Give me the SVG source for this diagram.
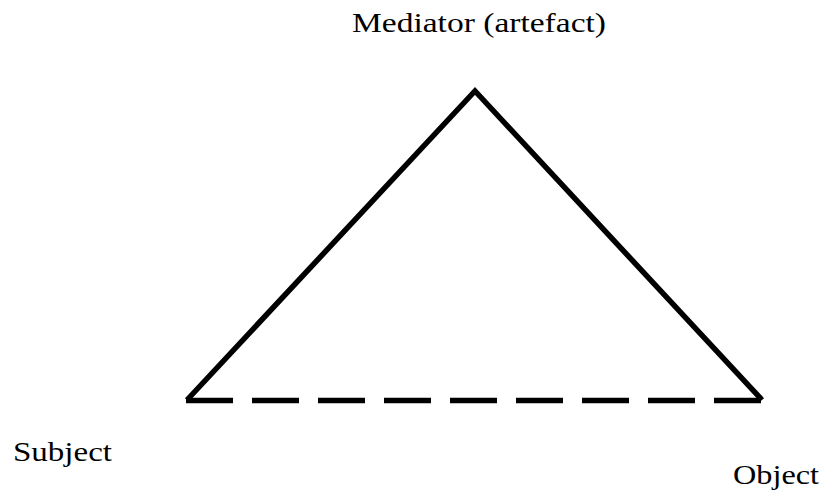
<svg xmlns="http://www.w3.org/2000/svg" width="827" height="495" viewBox="0 0 827 495">
<style>
.lbl{font-family:"Liberation Serif","DejaVu Serif",serif;font-size:28px;fill:#000}
.edge{fill:none;stroke:#000;stroke-width:5.5}
.dash{stroke-dasharray:47 19}
</style>
<rect width="827" height="495" fill="#fff"/>
<g id="connectors">
<polyline class="edge" points="187,400 475,91 762,400" stroke-linejoin="miter" stroke-miterlimit="10"/>
<line class="edge dash" x1="186" y1="400.5" x2="762" y2="400.5"/>
</g>
<g id="mediator"><text class="lbl" x="352" y="32" textLength="254" lengthAdjust="spacingAndGlyphs">Mediator (artefact)</text></g>
<g id="subject"><text class="lbl" x="13" y="461" textLength="99" lengthAdjust="spacingAndGlyphs">Subject</text></g>
<g id="object"><text class="lbl" x="733" y="484" textLength="86" lengthAdjust="spacingAndGlyphs">Object</text></g>
</svg>
